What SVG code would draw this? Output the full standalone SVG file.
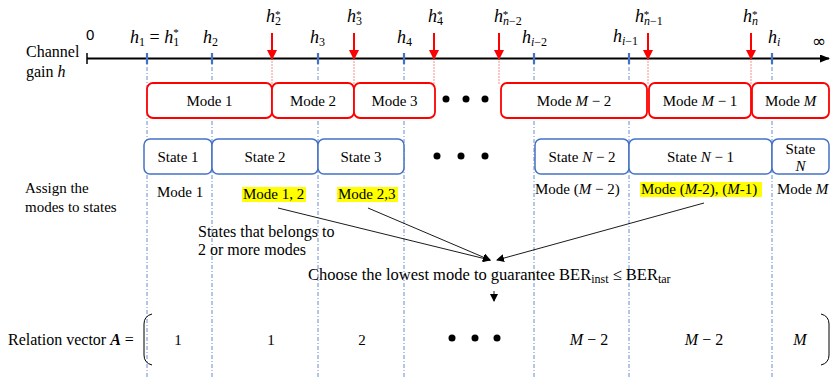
<svg xmlns="http://www.w3.org/2000/svg" width="831" height="380" viewBox="0 0 831 380">
<defs>
<style>
.t{font-family:"Liberation Serif","Times New Roman",serif;font-size:15px;fill:#000}
.a{font-size:16px}
.m{font-family:"Liberation Serif","Times New Roman",serif;font-size:18px;font-style:italic;fill:#000}
.s{font-size:12px;font-style:normal}
.st{font-size:11px;font-style:normal}
.i{font-style:italic}
.mode{fill:#fff;stroke:#ff0000;stroke-width:1.8}
.state{fill:#fff;stroke:#4472c4;stroke-width:1.5}
.vl{stroke:#4472c4;stroke-width:0.8;stroke-dasharray:4 2 1 2;fill:none}
.rl{stroke:#ff7070;stroke-width:0.8;stroke-dasharray:2 1;fill:none}
.tick{stroke:#4472c4;stroke-width:2.2}
.red{stroke:#ff0000;stroke-width:2;fill:none}
.con{stroke:#000;stroke-width:0.9;fill:none}
.hl{fill:#ffff00}
</style>
<marker id="ah" markerWidth="8" markerHeight="8" refX="7" refY="4" orient="auto" markerUnits="userSpaceOnUse">
<path d="M0,0 L8,4 L0,8 Z" fill="#000"/>
</marker>
<marker id="rh" markerWidth="10" markerHeight="10" refX="9" refY="5" orient="auto" markerUnits="userSpaceOnUse">
<path d="M0,0 L10,5 L0,10 Z" fill="#ff0000"/>
</marker>
<marker id="axh" markerWidth="10" markerHeight="8" refX="9" refY="4" orient="auto" markerUnits="userSpaceOnUse">
<path d="M0,0 L10,4 L0,8 Z" fill="#000"/>
</marker>
</defs>

<g id="guides">
<line class="vl" x1="147" y1="58" x2="147" y2="378"/>
<line class="vl" x1="212" y1="58" x2="212" y2="378"/>
<line class="vl" x1="318" y1="58" x2="318" y2="378"/>
<line class="vl" x1="404" y1="58" x2="404" y2="378"/>
<line class="vl" x1="534" y1="58" x2="534" y2="378"/>
<line class="vl" x1="629" y1="58" x2="629" y2="378"/>
<line class="vl" x1="772" y1="58" x2="772" y2="378"/>
<line class="rl" x1="272" y1="58" x2="272" y2="84"/>
<line class="rl" x1="354" y1="58" x2="354" y2="84"/>
<line class="rl" x1="434" y1="58" x2="434" y2="84"/>
<line class="rl" x1="499" y1="58" x2="499" y2="84"/>
<line class="rl" x1="648" y1="58" x2="648" y2="84"/>
<line class="rl" x1="751" y1="58" x2="751" y2="84"/>
</g>

<g id="axis">
<line x1="87" y1="58.5" x2="829" y2="58.5" stroke="#000" stroke-width="2" marker-end="url(#axh)"/>
<line x1="87" y1="53" x2="87" y2="64" stroke="#000" stroke-width="1.5"/>
<line class="tick" x1="147" y1="53" x2="147" y2="64"/>
<line class="tick" x1="212" y1="53" x2="212" y2="64"/>
<line class="tick" x1="318" y1="53" x2="318" y2="64"/>
<line class="tick" x1="404" y1="53" x2="404" y2="64"/>
<line class="tick" x1="534" y1="53" x2="534" y2="64"/>
<line class="tick" x1="629" y1="53" x2="629" y2="64"/>
<line class="tick" x1="772" y1="53" x2="772" y2="64"/>
<line class="red" x1="272" y1="33" x2="272" y2="59" marker-end="url(#rh)"/>
<line class="red" x1="354" y1="33" x2="354" y2="59" marker-end="url(#rh)"/>
<line class="red" x1="434" y1="33" x2="434" y2="59" marker-end="url(#rh)"/>
<line class="red" x1="499" y1="33" x2="499" y2="59" marker-end="url(#rh)"/>
<line class="red" x1="648" y1="33" x2="648" y2="59" marker-end="url(#rh)"/>
<line class="red" x1="751" y1="33" x2="751" y2="59" marker-end="url(#rh)"/>
</g>

<g id="axisLabels">
<text class="t a" x="26" y="57">Channel</text>
<text class="t a" x="26" y="77">gain <tspan class="i">h</tspan></text>
<text x="86" y="40" style="font-family:'Liberation Sans',sans-serif;font-size:15px">0</text>
<text class="m" x="130" y="43">h<tspan class="s" dy="3">1</tspan><tspan font-style="normal" dy="-3"> = </tspan>h<tspan class="s" dy="3">1</tspan><tspan class="st" dx="-6" dy="-10">*</tspan></text>
<text class="m" x="203" y="43">h<tspan class="s" dy="3">2</tspan></text>
<text class="m" x="310" y="43">h<tspan class="s" dy="3">3</tspan></text>
<text class="m" x="397" y="43">h<tspan class="s" dy="3">4</tspan></text>
<text class="m" x="522" y="43">h<tspan class="s i" dy="3">i</tspan><tspan class="s">−2</tspan></text>
<text class="m" x="613" y="42">h<tspan class="s i" dy="3">i</tspan><tspan class="s">−1</tspan></text>
<text class="m" x="768" y="43">h<tspan class="s i" dy="3">i</tspan></text>
<text x="812" y="47" style="font-family:'DejaVu Sans',sans-serif;font-size:17px">∞</text>
<text class="m" x="266" y="22">h<tspan class="s" dy="3">2</tspan><tspan class="st" dx="-6" dy="-7">*</tspan></text>
<text class="m" x="347" y="22">h<tspan class="s" dy="3">3</tspan><tspan class="st" dx="-6" dy="-7">*</tspan></text>
<text class="m" x="428" y="22">h<tspan class="s" dy="3">4</tspan><tspan class="st" dx="-6" dy="-7">*</tspan></text>
<text class="m" x="494" y="22">h<tspan class="s i" dy="3">n</tspan><tspan class="s">−2</tspan><tspan class="st" dx="-19" dy="-7">*</tspan></text>
<text class="m" x="635" y="22">h<tspan class="s i" dy="3">n</tspan><tspan class="s">−1</tspan><tspan class="st" dx="-19" dy="-7">*</tspan></text>
<text class="m" x="743" y="22">h<tspan class="s i" dy="3">n</tspan><tspan class="st" dx="-6" dy="-7">*</tspan></text>
</g>

<g id="mode1"><rect class="mode" x="147" y="83" width="125" height="35" rx="6"/><text class="t" x="209.5" y="106" text-anchor="middle">Mode 1</text></g>
<g id="mode2"><rect class="mode" x="272" y="83" width="82" height="35" rx="6"/><text class="t" x="313" y="106" text-anchor="middle">Mode 2</text></g>
<g id="mode3"><rect class="mode" x="354" y="83" width="81" height="35" rx="6"/><text class="t" x="394.5" y="106" text-anchor="middle">Mode 3</text></g>
<g id="modeM2"><rect class="mode" x="501" y="83" width="146" height="35" rx="6"/><text class="t" x="574" y="106" text-anchor="middle">Mode <tspan class="i">M</tspan> − 2</text></g>
<g id="modeM1"><rect class="mode" x="649" y="83" width="102" height="35" rx="6"/><text class="t" x="700" y="106" text-anchor="middle">Mode <tspan class="i">M</tspan> − 1</text></g>
<g id="modeM"><rect class="mode" x="752" y="83" width="77" height="35" rx="6"/><text class="t" x="790.5" y="106" text-anchor="middle">Mode <tspan class="i">M</tspan></text></g>
<g id="modeDots"><circle cx="446" cy="99" r="3.5"/><circle cx="466" cy="99" r="3.5"/><circle cx="485" cy="99" r="3.5"/></g>

<g id="state1"><rect class="state" x="144" y="139" width="68" height="35" rx="6"/><text class="t" x="178" y="162" text-anchor="middle">State 1</text></g>
<g id="state2"><rect class="state" x="212" y="139" width="106" height="35" rx="6"/><text class="t" x="265" y="162" text-anchor="middle">State 2</text></g>
<g id="state3"><rect class="state" x="318" y="139" width="86" height="35" rx="6"/><text class="t" x="361" y="162" text-anchor="middle">State 3</text></g>
<g id="stateN2"><rect class="state" x="535" y="139" width="94" height="35" rx="6"/><text class="t" x="582" y="162" text-anchor="middle">State <tspan class="i">N</tspan> − 2</text></g>
<g id="stateN1"><rect class="state" x="629" y="139" width="143" height="35" rx="6"/><text class="t" x="700.5" y="162" text-anchor="middle">State <tspan class="i">N</tspan> − 1</text></g>
<g id="stateN"><rect class="state" x="772" y="139" width="57" height="35" rx="6"/><text class="t" x="800.5" y="154" text-anchor="middle">State</text><text class="t i" x="800.5" y="171" text-anchor="middle">N</text></g>
<g id="stateDots"><circle cx="437" cy="156" r="3.5"/><circle cx="461" cy="156" r="3.5"/><circle cx="485" cy="156" r="3.5"/></g>

<g id="assign">
<text class="t" x="25" y="193">Assign the</text>
<text class="t" x="25" y="212">modes to states</text>
<text class="t" x="157" y="197">Mode 1</text>
<rect class="hl" x="242" y="187" width="64" height="15"/>
<text class="t" x="243" y="199">Mode 1, 2</text>
<rect class="hl" x="337" y="187" width="61" height="15"/>
<text class="t" x="338" y="199">Mode 2,3</text>
<text class="t" x="535" y="194">Mode (<tspan class="i">M</tspan> − 2)</text>
<rect class="hl" x="640" y="182" width="122" height="15"/>
<text class="t" x="641" y="194">Mode (<tspan class="i">M</tspan>-2), (<tspan class="i">M</tspan>-1)</text>
<text class="t" x="777" y="194">Mode <tspan class="i">M</tspan></text>
<text class="t a" x="198" y="237">States that belongs to</text>
<text class="t a" x="198" y="255">2 or more modes</text>
<text class="t" x="308" y="280" style="font-size:16.5px">Choose the lowest mode to guarantee BER<tspan font-size="12" dy="3">inst</tspan><tspan dy="-3"> ≤ BER</tspan><tspan font-size="12" dy="3">tar</tspan></text>
</g>

<g id="connectors">
<line class="con" x1="278" y1="208" x2="490" y2="260" marker-end="url(#ah)"/>
<line class="con" x1="368" y1="208" x2="490" y2="260" marker-end="url(#ah)"/>
<line class="con" x1="704" y1="203" x2="497" y2="260" marker-end="url(#ah)"/>
<line class="con" x1="494" y1="291" x2="494" y2="301" marker-end="url(#ah)"/>
</g>

<g id="vector">
<text class="t a" x="8" y="345">Relation vector <tspan font-weight="bold" font-style="italic">A</tspan> =</text>
<path d="M152,314 Q144,316 144,324 L144,355 Q144,363 152,365" fill="none" stroke="#000" stroke-width="1"/>
<path d="M821,314 Q829,316 829,324 L829,355 Q829,363 821,365" fill="none" stroke="#000" stroke-width="1"/>
<text class="t" x="178" y="345" text-anchor="middle">1</text>
<text class="t" x="271" y="345" text-anchor="middle">1</text>
<text class="t" x="362" y="345" text-anchor="middle">2</text>
<circle cx="452" cy="338" r="3.5"/><circle cx="475" cy="338" r="3.5"/><circle cx="497" cy="338" r="3.5"/>
<text class="m" x="589" y="345" text-anchor="middle" style="font-size:16px">M <tspan font-style="normal">− 2</tspan></text>
<text class="m" x="704" y="345" text-anchor="middle" style="font-size:16px">M <tspan font-style="normal">− 2</tspan></text>
<text class="m" x="800" y="345" text-anchor="middle" style="font-size:16px">M</text>
</g>
</svg>
